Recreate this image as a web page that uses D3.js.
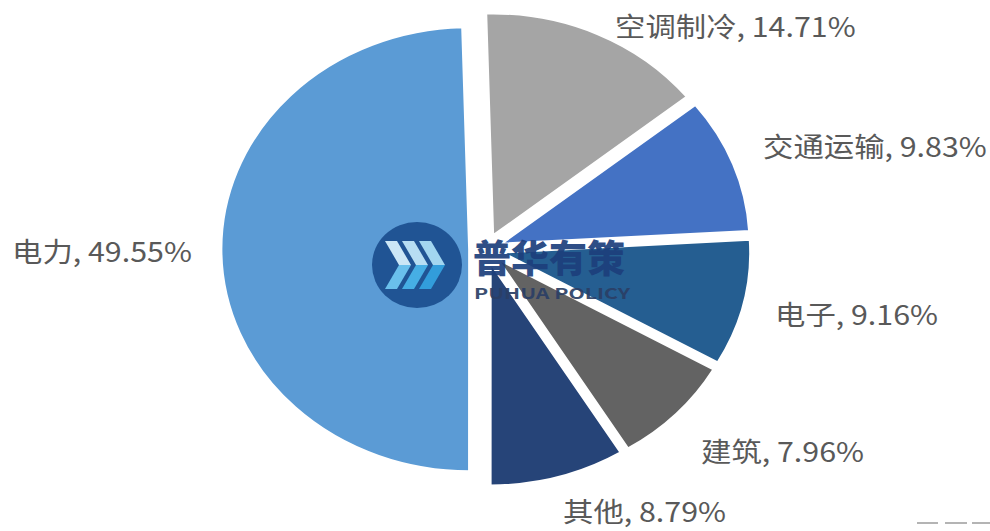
<!DOCTYPE html>
<html>
<head>
<meta charset="utf-8">
<script src="https://cdn.jsdelivr.net/npm/d3@7/dist/d3.min.js"></script>
<style>
  html, body { margin: 0; padding: 0; background: #ffffff; }
  svg { display: block; }
  text { font-family: "Noto Sans CJK SC", "Noto Sans", sans-serif; }
</style>
</head>
<body>
<svg id="chart" width="990" height="531"></svg>
<script>
// Share of demand by application sector (%)
const categories = ["空调制冷", "交通运输", "电子", "建筑", "其他", "电力"];
const shares = [14.71, 9.83, 9.16, 7.96, 8.79, 49.55];
const sliceColors = ["#a5a5a5", "#4472c4", "#255e91", "#636363", "#264478", "#5b9bd5"];

// Layout
const W = 990, H = 531;
const cx = 486, cy = 249;
const radius = 222;
const stretchX = 1.117;      // pie is drawn slightly wider than tall
const explode = 15;          // distance each slice is pulled out along its bisector
const startAngle = -0.028;

// Label anchors: left edge / baseline in page pixels
const labelAnchors = [
  [615, 37], [763, 157], [775, 325], [701, 462], [563, 522], [12, 262]
];
const labelSize = 27.2;

const svg = d3.select("#chart");
svg.append("rect").attr("width", W).attr("height", H).attr("fill", "#ffffff");

const pie = d3.pie().sort(null).value(d => d)
  .startAngle(startAngle).endAngle(startAngle + 2 * Math.PI);
const arc = d3.arc().innerRadius(0).outerRadius(radius);
const arcs = pie(shares);

const pieG = svg.append("g")
  .attr("transform", `translate(${cx},${cy}) scale(${stretchX},1)`);

pieG.selectAll("path.slice")
  .data(arcs)
  .join("path")
  .attr("class", "slice")
  .attr("d", arc)
  .attr("fill", (d, i) => sliceColors[i])
  .attr("stroke", "#ffffff")
  .attr("stroke-width", 2)
  .attr("transform", d => {
    const mid = (d.startAngle + d.endAngle) / 2;
    return `translate(${Math.sin(mid) * explode},${-Math.cos(mid) * explode})`;
  });

// Data labels
const fmt = d3.format(".2f");
svg.append("g").selectAll("text.lbl")
  .data(arcs)
  .join("text")
  .attr("class", "lbl")
  .attr("transform", (d, i) => `translate(${labelAnchors[i][0]},${labelAnchors[i][1]}) scale(${stretchX},1)`)
  .attr("font-size", labelSize)
  .attr("fill", "#595959")
  .text((d, i) => `${categories[i]}, ${fmt(d.data)}%`);

// Brand watermark
const logo = svg.append("g").attr("opacity", 0.92);
const lc = [417, 265];
logo.append("ellipse")
  .attr("cx", lc[0]).attr("cy", lc[1]).attr("rx", 45).attr("ry", 43)
  .attr("fill", "#1b4f8f");
const chevrons = [-22, -5, 12];
chevrons.forEach((ox, k) => {
  const x0 = lc[0] + ox, y0 = lc[1];
  // upper stroke (light) and lower stroke (cyan)
  logo.append("path")
    .attr("d", `M${x0 - 10},${y0 - 24} L${x0 + 2},${y0 - 24} L${x0 + 16},${y0} L${x0 + 4},${y0} Z`)
    .attr("fill", ["#d6eef9", "#bfe4f6", "#a9dbf3"][k]);
  logo.append("path")
    .attr("d", `M${x0 + 4},${y0} L${x0 + 16},${y0} L${x0 + 2},${y0 + 24} L${x0 - 10},${y0 + 24} Z`)
    .attr("fill", ["#6cc4ee", "#45b0e6", "#2f9edc"][k]);
});
logo.append("text")
  .attr("x", 473).attr("y", 272)
  .attr("font-size", 38).attr("font-weight", 900)
  .attr("fill", "#1d3f7c")
  .text("普华有策");
logo.append("text")
  .attr("x", 474).attr("y", 299)
  .attr("font-size", 15).attr("font-weight", 700)
  .attr("font-family", "Roboto, 'Noto Sans', sans-serif")
  .attr("textLength", 156).attr("lengthAdjust", "spacingAndGlyphs")
  .attr("fill", "#2b3f66")
  .text("PUHUA POLICY");

// Corner mark
svg.append("g").selectAll("line")
  .data([[917, 938], [945, 967], [972, 990]])
  .join("line")
  .attr("x1", d => d[0]).attr("x2", d => d[1])
  .attr("y1", 523).attr("y2", 523)
  .attr("stroke", "#b4b4b4").attr("stroke-width", 2);
</script>
</body>
</html>
